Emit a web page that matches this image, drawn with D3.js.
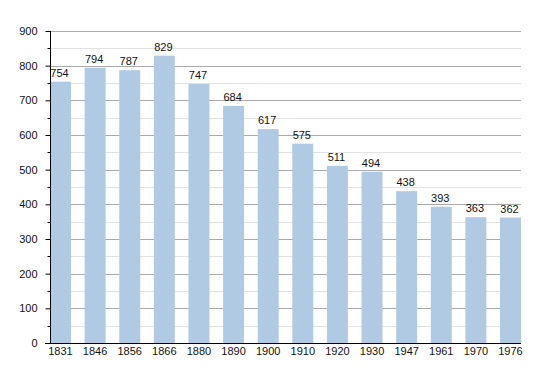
<!DOCTYPE html>
<html>
<head>
<meta charset="utf-8">
<script src="https://cdn.jsdelivr.net/npm/d3@7"></script>
<style>
  body { margin: 0; background: #fff; }
  text { font-family: "Liberation Sans", Arial, sans-serif; font-size: 11px; fill: #111; }
</style>
</head>
<body>
<svg id="chart" width="550" height="373"></svg>
<script>
'use strict';

var years = ['1831','1846','1856','1866','1880','1890','1900','1910','1920','1930','1947','1961','1970','1976'];
var population = [754, 794, 787, 829, 747, 684, 617, 575, 511, 494, 438, 393, 363, 362];
var yTicks = [0, 100, 200, 300, 400, 500, 600, 700, 800, 900];

var plotLeft = 50, plotRight = 521, plotTop = 31, plotBottom = 343;
var barW = 21;

var svg = d3.select('#chart');

var y = d3.scaleLinear()
    .domain([0, 900])
    .range([plotBottom, plotTop]);

// bars sit at the left of each slot, last bar ends at the axis end
var x = d3.scalePoint()
    .domain(years)
    .range([plotLeft, plotRight - barW]);

function py(d) { return Math.round(y(d)) + 0.5; }

// minor grid every 50
svg.append('g')
  .selectAll('line')
  .data(d3.range(50, 900, 100))
  .enter().append('line')
    .attr('x1', plotLeft).attr('x2', plotRight)
    .attr('y1', py).attr('y2', py)
    .attr('stroke', '#e2e2e2');

// major grid
svg.append('g')
  .selectAll('line')
  .data(yTicks.slice(1))
  .enter().append('line')
    .attr('x1', plotLeft).attr('x2', plotRight)
    .attr('y1', py).attr('y2', py)
    .attr('stroke', '#aaaaaa');

svg.append('g')
  .selectAll('rect')
  .data(population)
  .enter().append('rect')
    .attr('x', function(d, i) { return x(years[i]); })
    .attr('y', function(d) { return y(d); })
    .attr('width', barW)
    .attr('height', function(d) { return plotBottom - y(d); })
    .attr('fill', '#b1cae4');

svg.append('g')
  .selectAll('text')
  .data(population)
  .enter().append('text')
    .attr('x', function(d, i) { return x(years[i]) + barW / 2 - 1; })
    .attr('y', function(d) { return y(d) - 5; })
    .attr('text-anchor', 'middle')
    .text(function(d) { return d; });

// y axis
var yAxis = svg.append('g')
    .attr('transform', 'translate(' + (plotLeft + 0.5) + ',0)')
    .call(d3.axisLeft(y).tickValues(yTicks).tickSize(5).tickPadding(8));
yAxis.select('.domain').attr('d', 'M0,' + plotTop + 'V' + (plotBottom + 0.5)).attr('stroke', '#000');
yAxis.selectAll('text').style('font-size', '11px').attr('fill', '#111')
    .style('font-family', '"Liberation Sans", Arial, sans-serif');

svg.append('g')
    .attr('transform', 'translate(' + (plotLeft + 0.5) + ',0)')
  .selectAll('line')
  .data(d3.range(50, 900, 100))
  .enter().append('line')
    .attr('x1', -3).attr('x2', 0)
    .attr('y1', py).attr('y2', py)
    .attr('stroke', '#000');

// x axis
svg.append('line')
    .attr('x1', plotLeft - 5).attr('x2', plotRight)
    .attr('y1', plotBottom + 0.5).attr('y2', plotBottom + 0.5)
    .attr('stroke', '#000');

svg.append('g')
  .selectAll('text')
  .data(years)
  .enter().append('text')
    .attr('x', function(d) { return x(d) + barW / 2; })
    .attr('y', plotBottom + 12)
    .attr('text-anchor', 'middle')
    .text(function(d) { return d; });
</script>
</body>
</html>
